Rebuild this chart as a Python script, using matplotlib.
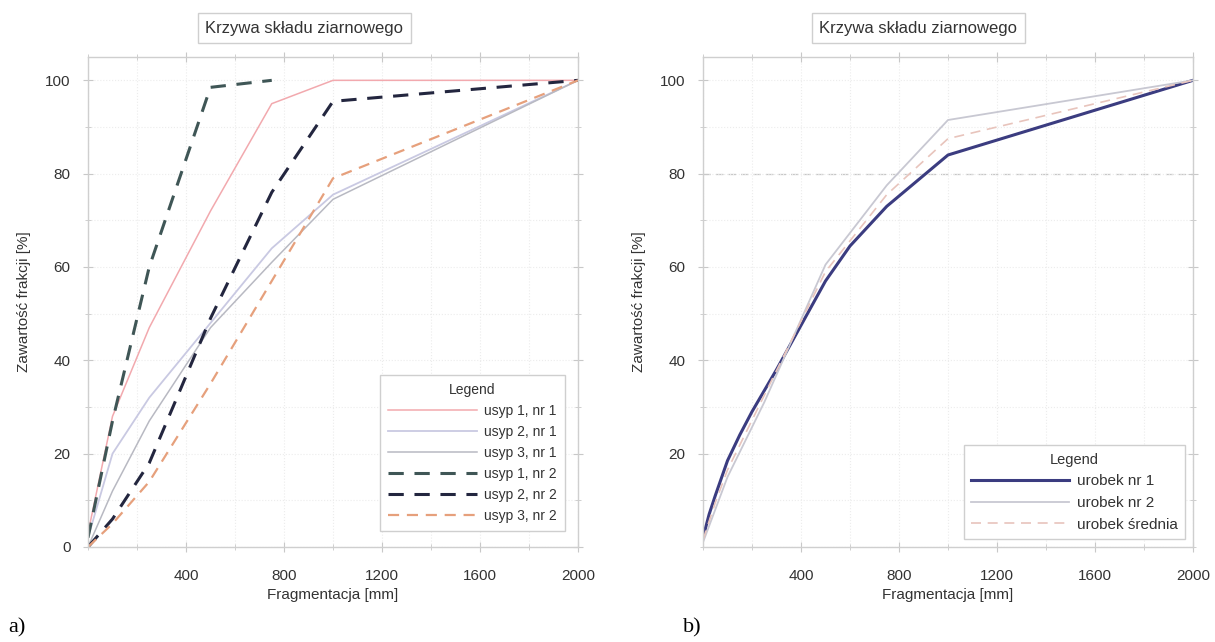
import matplotlib
matplotlib.use("Agg")
import matplotlib.pyplot as plt
from matplotlib.ticker import MultipleLocator

plt.rcParams["font.family"] = ["Liberation Sans", "DejaVu Sans"]

# ---------------- data: panel a ----------------
x_a = [0, 100, 250, 500, 750, 1000, 2000]
usyp1_nr1 = [3, 28, 47, 72, 95, 100, 100]
usyp2_nr1 = [2, 20, 32, 48, 64, 75.5, 100]
usyp3_nr1 = [0, 12, 27, 47, 61, 74.5, 100]
x_a_teal = [0, 100, 250, 500, 750]
usyp1_nr2 = [2, 27, 60, 98.5, 100]
usyp2_nr2 = [0, 6, 18, 49, 76, 95.5, 100]
usyp3_nr2 = [0, 5, 14, 35, 57, 79, 100]

# ---------------- data: panel b ----------------
x_b1 = [0, 25, 50, 100, 150, 200, 250, 300, 400, 500, 600, 750, 1000, 2000]
urobek_nr1 = [2, 7, 11, 18.5, 24, 29, 33.5, 38, 47.5, 57, 64.5, 73, 84, 100]
x_b2 = [0, 50, 100, 250, 500, 750, 1000, 2000]
urobek_nr2 = [1, 8, 15, 31, 60.5, 77.5, 91.5, 100]
urobek_sr = [1.5, 9.5, 16.5, 32.5, 59, 75.5, 87.5, 100]

title_txt = "Krzywa składu ziarnowego"
xlab = "Fragmentacja [mm]"
ylab = "Zawartość frakcji [%]"

W, H = 1215, 642
fig = plt.figure(figsize=(W / 100, H / 100), dpi=100)

ax1 = fig.add_axes([88 / W, (H - 547) / H, 490 / W, 490 / H])
ax2 = fig.add_axes([703 / W, (H - 547) / H, 490 / W, 490 / H])

ax1.plot(x_a, usyp1_nr1, color="#f2a9ae", lw=1.1, label="usyp 1, nr 1")
ax1.plot(x_a, usyp2_nr1, color="#c9c9e2", lw=1.3, label="usyp 2, nr 1")
ax1.plot(x_a, usyp3_nr1, color="#b8b9c2", lw=1.1, label="usyp 3, nr 1")
ax1.plot(x_a_teal, usyp1_nr2, color="#3f5656", lw=2.2, ls=(0, (5, 3.5)), label="usyp 1, nr 2")
ax1.plot(x_a, usyp2_nr2, color="#23263f", lw=2.2, ls=(0, (5, 3.5)), label="usyp 2, nr 2")
ax1.plot(x_a, usyp3_nr2, color="#e6a07c", lw=1.6, ls=(0, (5, 3.5)), label="usyp 3, nr 2")

ax2.plot(x_b1, urobek_nr1, color="#3b3c80", lw=2.2, label="urobek nr 1")
ax2.plot(x_b2, urobek_nr2, color="#c8c8d2", lw=1.3, label="urobek nr 2")
ax2.plot(x_b2, urobek_sr, color="#e8c4bc", lw=1.2, ls=(0, (6, 4)), label="urobek średnia")

for ax in (ax1, ax2):
    ax.set_xlim(0, 2000)
    ax.set_ylim(0, 105)
    ax.xaxis.set_major_locator(MultipleLocator(400))
    ax.xaxis.set_minor_locator(MultipleLocator(200))
    ax.yaxis.set_major_locator(MultipleLocator(20))
    ax.yaxis.set_minor_locator(MultipleLocator(10))
    ax.tick_params(which="both", direction="inout", top=True, right=True,
                   color="#c8c8c8", labelcolor="#333333", labelsize=11)
    ax.tick_params(which="major", length=7)
    ax.tick_params(which="minor", length=4)
    ax.tick_params(axis="x", pad=12)
    ax.tick_params(axis="y", pad=9)
    for s in ax.spines.values():
        s.set_color("#cfcfcf")
        s.set_linewidth(1.0)
    ax.grid(True, which="both", color="#ececec", ls=":", lw=0.8)
    ax.set_xlabel(xlab, fontsize=11, color="#333333", labelpad=4)
    ax.set_ylabel(ylab, fontsize=11, color="#333333", labelpad=10)
    ax.set_axisbelow(True)

# x tick label 0 is not shown
ax1.set_xticks([400, 800, 1200, 1600, 2000])
ax2.set_xticks([400, 800, 1200, 1600, 2000])
ax1.set_yticks([0, 20, 40, 60, 80, 100])
ax2.set_yticks([20, 40, 60, 80, 100])
ax2.axhline(80, color="#c6c6c6", ls=(0, (6, 4)), lw=0.9, zorder=0)

leg1 = ax1.legend(loc="lower right", bbox_to_anchor=(0.988, 0.018), title="Legend",
                  fontsize=10, title_fontsize=10, handlelength=6.4,
                  labelspacing=0.5, fancybox=False,
                  framealpha=1, edgecolor="#cfcfcf", borderpad=0.6, handletextpad=0.5)
leg2 = ax2.legend(loc="lower right", bbox_to_anchor=(1.0, 0.0), title="Legend",
                  fontsize=11, title_fontsize=10.5, handlelength=6.4,
                  labelspacing=0.5, fancybox=False, framealpha=1,
                  edgecolor="#cfcfcf", borderpad=0.5, handletextpad=0.5)
for lg in (leg1, leg2):
    for t in lg.get_texts():
        t.set_color("#333333")
    lg.get_title().set_color("#333333")

box = dict(boxstyle="square,pad=0.45", fc="white", ec="#cfcfcf", lw=1.0)
fig.text(304 / W, 1 - 28 / H, title_txt, ha="center", va="center", fontsize=12, color="#333333", bbox=box)
fig.text(918 / W, 1 - 28 / H, title_txt, ha="center", va="center", fontsize=12, color="#333333", bbox=box)

fig.text(8 / W, 1 - 628 / H, "a)", ha="left", va="center", fontsize=16, family="Liberation Serif")
fig.text(683 / W, 1 - 628 / H, "b)", ha="left", va="center", fontsize=16, family="Liberation Serif")

fig.savefig("out.png", dpi=100, facecolor="white")
